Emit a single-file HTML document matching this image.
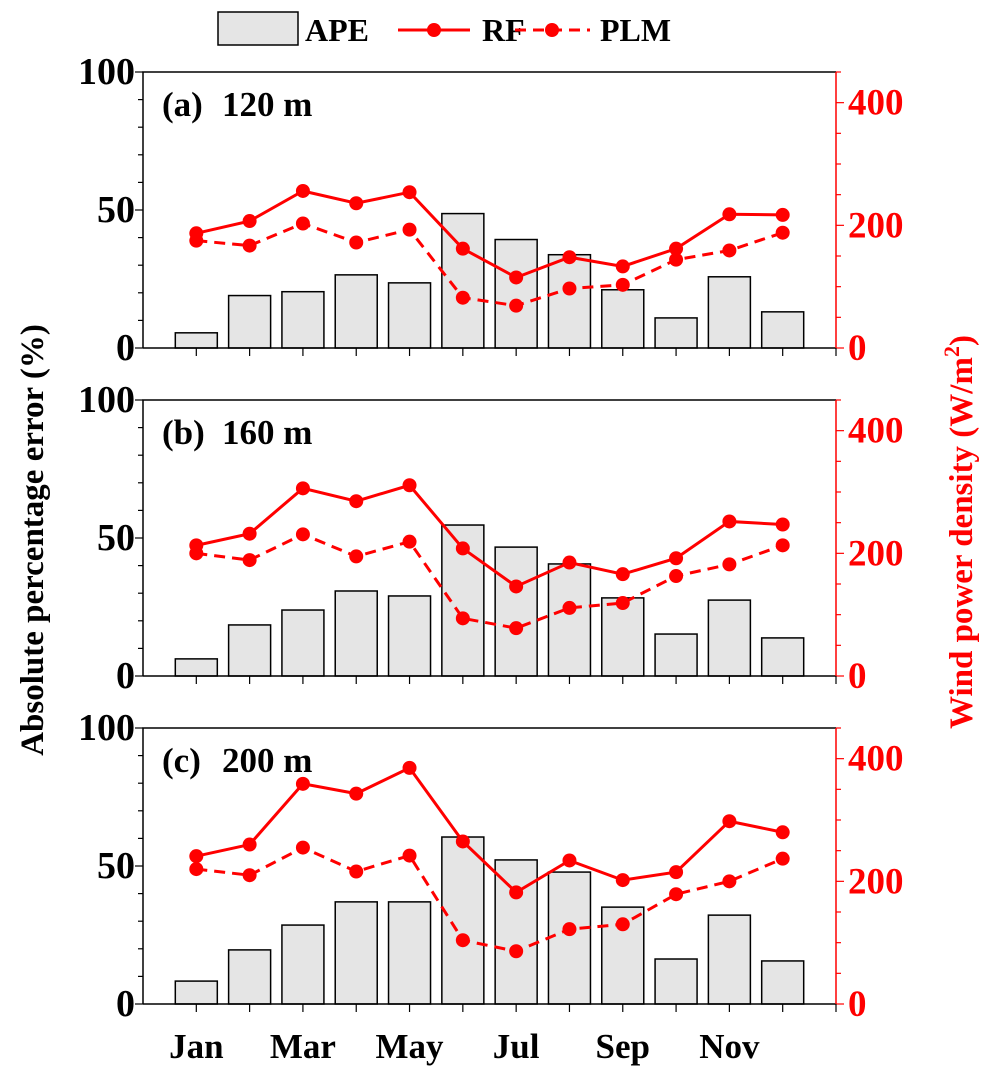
<!DOCTYPE html>
<html><head><meta charset="utf-8"><style>
html,body{margin:0;padding:0;background:#fff;}
svg{display:block;font-family:"Liberation Serif",serif;font-weight:bold;}
</style></head><body>
<svg id="chart" width="992" height="1076" viewBox="0 0 992 1076" xmlns="http://www.w3.org/2000/svg">
  <g>
    <rect x="218" y="12" width="80" height="33" fill="#e5e5e5" stroke="#000" stroke-width="1.5"/>
    <text x="305" y="41" font-size="32">APE</text>
    <line x1="398" y1="30" x2="470" y2="30" stroke="#f00" stroke-width="3"/>
    <circle cx="434" cy="30" r="7" fill="#f00"/>
    <text x="482" y="41" font-size="32">RF</text>
    <line x1="515" y1="30" x2="590" y2="30" stroke="#f00" stroke-width="3" stroke-dasharray="11,7"/>
    <circle cx="552" cy="30" r="7" fill="#f00"/>
    <text x="600" y="41" font-size="32">PLM</text>
  </g>
  <text transform="translate(43,540) rotate(-90)" text-anchor="middle" font-size="33">Absolute percentage error (%)</text>
  <text transform="translate(972,532) rotate(-90)" text-anchor="middle" font-size="33" fill="#f00">Wind power density (W/m<tspan font-size="22" dy="-13">2</tspan><tspan dy="13">)</tspan></text>
</svg>
<script>
const months = ["Jan","Feb","Mar","Apr","May","Jun","Jul","Aug","Sep","Oct","Nov","Dec"];
const monthLabels = ["Jan","","Mar","","May","","Jul","","Sep","","Nov",""];
const panelTags = ["(a)","(b)","(c)"];
const panelHeights = ["120 m","160 m","200 m"];
const apeA = [5.5,19,20.4,26.5,23.6,48.7,39.3,33.8,21.1,10.9,25.8,13.1];
const apeB = [6.2,18.5,23.9,30.8,29,54.7,46.7,40.6,28.3,15.2,27.5,13.8];
const apeC = [8.3,19.6,28.6,37,37,60.5,52.2,47.8,35.1,16.3,32.2,15.6];
const rfA = [187,207,256,236,254,162,115,148,133,162,218,217];
const rfB = [213,232,306,285,311,208,146,185,166,192,252,247];
const rfC = [241,260,359,343,385,265,182,234,202,215,298,280];
const plmA = [175,167,203,172,193,82,69,97,103,144,159,188];
const plmB = [200,189,231,195,219,94,78,111,119,163,182,213];
const plmC = [220,210,255,216,242,104,86,122,130,179,200,237];
const leftTicks = [0,50,100];
const rightTicks = [0,200,400];

const apeAll=[apeA,apeB,apeC], rfAll=[rfA,rfB,rfC], plmAll=[plmA,plmB,plmC];
const svg=document.getElementById('chart');
const NS='http://www.w3.org/2000/svg';
function mk(tag,attrs,parent){const e=document.createElementNS(NS,tag);for(const k in attrs)e.setAttribute(k,attrs[k]);(parent||svg).appendChild(e);return e;}
const X0=143,X1=836,xs=i=>X0+(i+1)*(X1-X0)/13;
const tops=[72,400,728],H=276,LMAX=100,RMAX=450;
for(let p=0;p<3;p++){
  const T=tops[p],B=T+H;
  const yl=v=>B-v/LMAX*H, yr=v=>B-v/RMAX*H;
  const g=mk('g',{});
  
  
  apeAll[p].forEach((v,i)=>{
    const r=mk('rect',{x:xs(i)-21,y:yl(v),width:42,height:B-yl(v),fill:'#e5e5e5',stroke:'#000','stroke-width':1.5},g);
    
    
  });
  [[rfAll[p],'none','rf'],[plmAll[p],'11,7','plm']].forEach(([arr,dash,nm])=>{
    const pl=mk('polyline',{points:arr.map((v,i)=>xs(i)+','+yr(v)).join(' '),fill:'none',stroke:'#f00','stroke-width':3,'stroke-dasharray':dash},g);
    
    
    arr.forEach((v,i)=>{
      const c=mk('circle',{cx:xs(i),cy:yr(v),r:7,fill:'#f00'},g);
      
      
    });
  });
  const fr=mk('path',{d:`M${X0},${B} V${T} H${X1} M${X0},${B} H${X1}`,fill:'none',stroke:'#000','stroke-width':1.5},g);
  
  
  const ra=mk('line',{x1:X1,y1:T,x2:X1,y2:B,stroke:'#f00','stroke-width':1.5},g);
  
  
  for(let v=0;v<=LMAX;v+=10){const major=v%50===0;mk('line',{x1:X0-(major?8:5),y1:yl(v),x2:X0,y2:yl(v),stroke:'#000','stroke-width':1.2},g);}
  leftTicks.forEach(v=>{const t=mk('text',{x:135,y:yl(v)+12,'text-anchor':'end','font-size':38},g);t.textContent=v;
    
    });
  for(let v=0;v<=RMAX;v+=50){const major=v%200===0;mk('line',{x1:X1,y1:yr(v),x2:X1+(major?8:5),y2:yr(v),stroke:'#f00','stroke-width':1.2},g);}
  rightTicks.forEach(v=>{const t=mk('text',{x:848,y:yr(v)+12,'font-size':37,fill:'#f00'},g);t.textContent=v;
    
    });
  for(let i=0;i<13;i++){const x=i<12?xs(i):X1;mk('line',{x1:x,y1:B,x2:x,y2:B+8,stroke:'#000','stroke-width':1.2},g);}
  const pt=mk('text',{x:162,y:T+44,'font-size':35},g);pt.textContent=panelTags[p];
  
  
  const ph=mk('text',{x:222,y:T+44,'font-size':35},g);ph.textContent=panelHeights[p];
  
  
}
monthLabels.forEach((m,i)=>{if(!m)return;const t=mk('text',{x:xs(i),y:1058,'text-anchor':'middle','font-size':35});t.textContent=m;
  
  });
</script>
</body></html>
